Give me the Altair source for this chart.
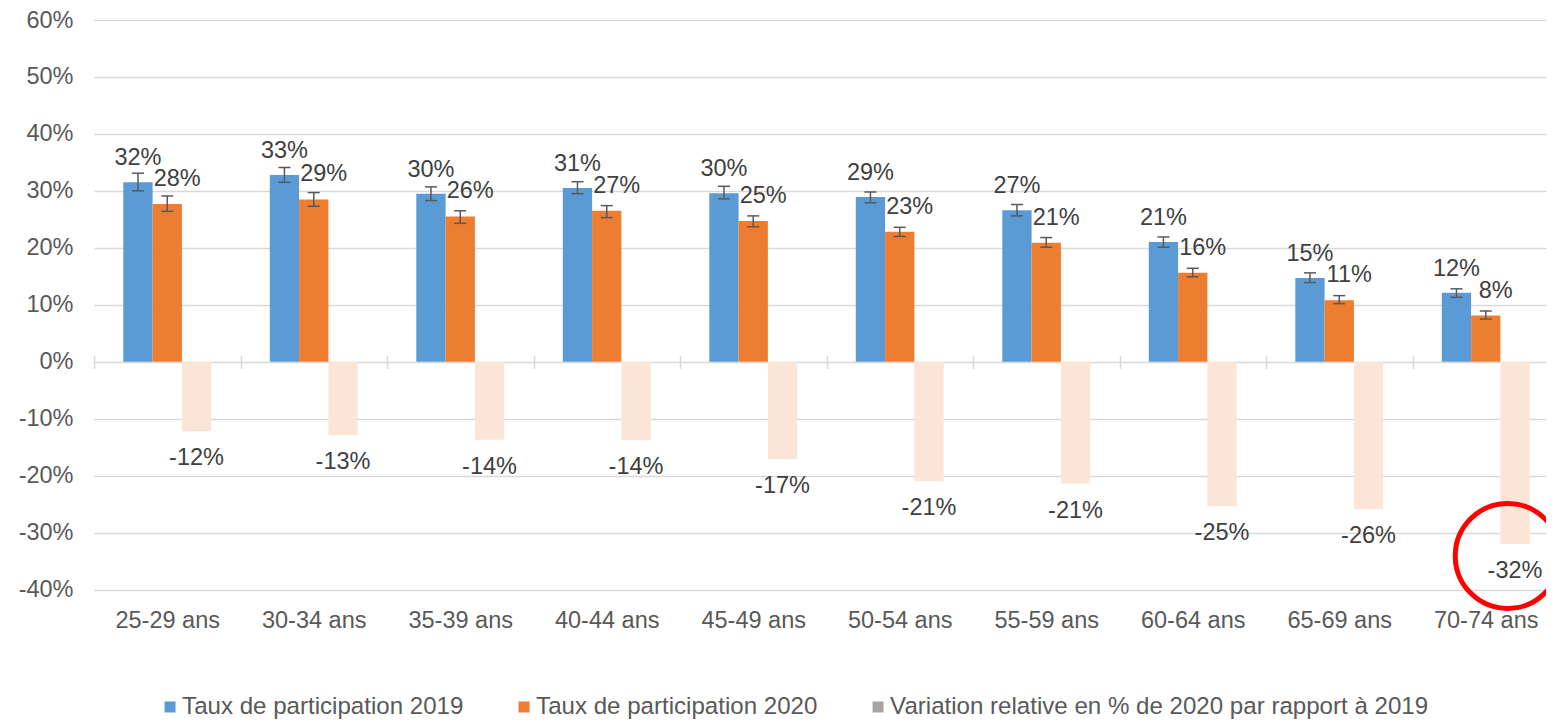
import math
import altair as alt
import pandas as pd

categories = ["25-29 ans", "30-34 ans", "35-39 ans", "40-44 ans", "45-49 ans",
              "50-54 ans", "55-59 ans", "60-64 ans", "65-69 ans", "70-74 ans"]
series_names = ["Taux de participation 2019", "Taux de participation 2020",
                "Variation relative en % de 2020 par rapport à 2019"]

rate_2019 = [31.5, 32.8, 29.5, 30.5, 29.6, 28.9, 26.6, 21.0, 14.7, 12.1]
low_2019 = [30.0, 31.5, 28.3, 29.5, 28.6, 27.9, 25.6, 20.1, 13.9, 11.3]
high_2019 = [33.1, 34.1, 30.7, 31.6, 30.8, 29.8, 27.6, 21.9, 15.6, 12.8]

rate_2020 = [27.7, 28.5, 25.5, 26.5, 24.7, 22.8, 20.9, 15.6, 10.8, 8.1]
low_2020 = [26.4, 27.3, 24.3, 25.3, 23.7, 22.0, 20.1, 14.9, 10.2, 7.5]
high_2020 = [29.1, 29.7, 26.5, 27.4, 25.6, 23.6, 21.8, 16.4, 11.6, 8.9]

variation = [-12.2, -12.9, -13.7, -13.8, -17.1, -21.0, -21.4, -25.4, -25.9, -32.0]

highlight_category = "70-74 ans"


def pct_label(v):
    sign = -1 if v < 0 else 1
    return f"{sign * int(math.floor(abs(v) + 0.5))}%"


rows = []
for i, c in enumerate(categories):
    rows.append(dict(cat=c, series=series_names[0], value=rate_2019[i],
                     lo=low_2019[i], hi=high_2019[i], label=pct_label(rate_2019[i])))
    rows.append(dict(cat=c, series=series_names[1], value=rate_2020[i],
                     lo=low_2020[i], hi=high_2020[i], label=pct_label(rate_2020[i])))
    rows.append(dict(cat=c, series=series_names[2], value=variation[i],
                     lo=None, hi=None, label=pct_label(variation[i])))
df = pd.DataFrame(rows)

FONT = "Liberation Sans"
AXIS_GREY = "#595959"
LABEL_GREY = "#404040"
GRID = "#D9D9D9"

x_enc = alt.X(
    "cat:N", sort=categories, title=None,
    scale=alt.Scale(paddingInner=0, paddingOuter=0),
    axis=alt.Axis(orient="bottom", offset=-234, domain=False, ticks=True,
                  tickBand="extent", tickSize=13, tickColor=GRID, tickWidth=1.5,
                  labelPadding=240, labelAngle=0, labelFontSize=23.5,
                  labelColor=AXIS_GREY, labelFont=FONT, grid=False),
)
xo_enc = alt.XOffset("series:N", sort=series_names,
                     scale=alt.Scale(domain=series_names, paddingInner=0, paddingOuter=1))
y_scale = alt.Scale(domain=[-40, 60], nice=False, zero=False)
y_enc = alt.Y(
    "value:Q", title=None, scale=y_scale,
    axis=alt.Axis(values=list(range(-40, 61, 10)), labelExpr="datum.value + '%'",
                  domain=False, ticks=False, labelPadding=21, labelFontSize=23.5,
                  labelColor=AXIS_GREY, labelFont=FONT, gridColor=GRID, gridWidth=1.5),
)

is_var = alt.datum.series == series_names[2]
not_var = alt.datum.series != series_names[2]

color_enc = alt.condition(
    is_var,
    alt.value("#FBE5D6"),
    alt.Color("series:N", sort=series_names,
              scale=alt.Scale(domain=series_names,
                              range=["#5B9BD5", "#ED7D31", "#A5A5A5"]),
              legend=alt.Legend(orient="none", legendX=59, legendY=674.5,
                                direction="horizontal", title=None,
                                symbolType="square", symbolSize=121,
                                symbolStrokeWidth=0, symbolOffset=5,
                                labelFontSize=24.1,
                                labelColor=AXIS_GREY, labelFont=FONT,
                                columnPadding=43, labelOffset=0, padding=0,
                                labelLimit=1000)),
)

base = alt.Chart(df)

bars = base.mark_bar().encode(x=x_enc, xOffset=xo_enc, y=y_enc, color=color_enc)

err_rule = base.transform_filter(not_var).mark_rule(
    color=AXIS_GREY, strokeWidth=1.5
).encode(x=x_enc, xOffset=xo_enc,
         y=alt.Y("lo:Q", title=None, scale=y_scale), y2="hi:Q")
err_lo = base.transform_filter(not_var).mark_tick(
    color=AXIS_GREY, thickness=1.5, size=12, opacity=1
).encode(x=x_enc, xOffset=xo_enc, y=alt.Y("lo:Q", title=None, scale=y_scale))
err_hi = base.transform_filter(not_var).mark_tick(
    color=AXIS_GREY, thickness=1.5, size=12, opacity=1
).encode(x=x_enc, xOffset=xo_enc, y=alt.Y("hi:Q", title=None, scale=y_scale))

txt_kw = dict(fontSize=23.5, color=LABEL_GREY, font=FONT, baseline="middle")
lab_2019 = base.transform_filter(alt.datum.series == series_names[0]).mark_text(
    dy=-24, **txt_kw).encode(x=x_enc, xOffset=xo_enc, y=y_enc, text="label:N")
lab_2020 = base.transform_filter(alt.datum.series == series_names[1]).mark_text(
    dx=10, dy=-25, **txt_kw).encode(x=x_enc, xOffset=xo_enc, y=y_enc, text="label:N")
lab_var = base.transform_filter(is_var).mark_text(
    dy=27, **txt_kw).encode(x=x_enc, xOffset=xo_enc, y=y_enc, text="label:N")

circle = base.transform_filter(
    (alt.datum.cat == highlight_category) & is_var
).mark_point(shape="circle", filled=False, size=11025, stroke="#FF0000",
             strokeWidth=5, opacity=1, xOffset=22, yOffset=12
).encode(x=x_enc, y=y_enc)

chart = alt.layer(bars, err_rule, err_lo, err_hi, lab_2019, lab_2020, lab_var, circle).properties(
    width=1465, height=569.5,
    autosize=alt.AutoSizeParams(type="none"),
    padding={"left": 86, "top": 12, "right": -13, "bottom": 130.5},
).configure(font=FONT).configure_view(stroke=None)

chart.save("out.html", embed_options={"renderer": "svg", "actions": False})
